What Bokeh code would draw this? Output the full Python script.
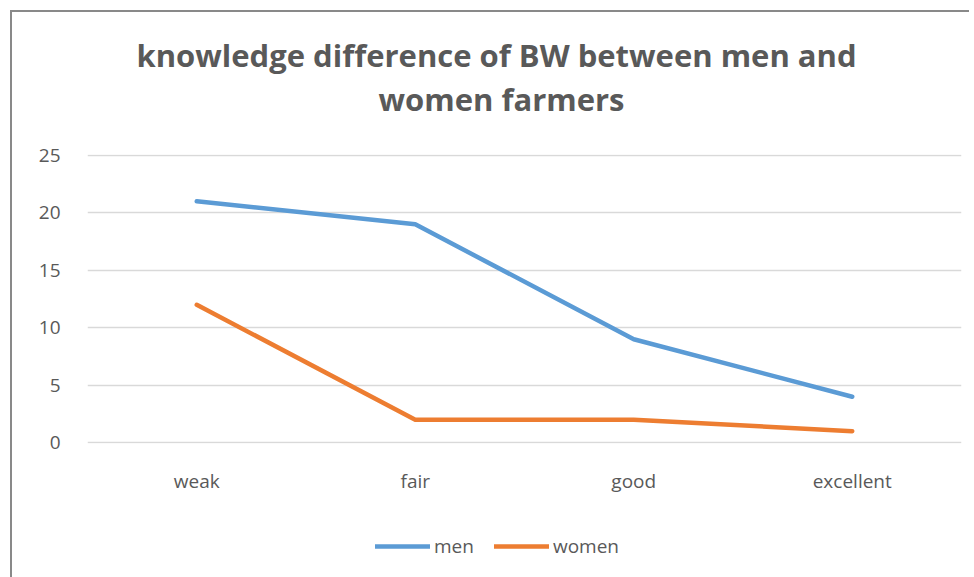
from bokeh.plotting import figure
from bokeh.layouts import column
from bokeh.models import Range1d, Legend, LegendItem, Title
from bokeh.embed import file_html
from bokeh.resources import INLINE

categories = ["weak", "fair", "good", "excellent"]
men = [21, 19, 9, 4]
women = [12, 2, 2, 1]
y_ticks = [0, 5, 10, 15, 20, 25]
title_lines = ["knowledge difference of BW between men and", "women farmers"]
series_names = ["men", "women"]
series_colors = ["#5B9BD5", "#ED7D31"]

FONT = "Open Sans"
TXT = "#595959"

p = figure(x_range=categories, frame_width=872, frame_height=287, output_backend="svg",
           toolbar_location=None, min_border_left=75, min_border_right=10,
           min_border_top=142, min_border_bottom=50)
p.styles = {"border-left": "2px solid #898989", "border-top": "2px solid #898989",
            "margin-left": "10px", "margin-top": "10px"}
p.y_range = Range1d(-0.07, 25.07)
p.yaxis.ticker = y_ticks
p.outline_line_color = None
p.xgrid.grid_line_color = None
p.ygrid.grid_line_color = "#D9D9D9"
p.ygrid.grid_line_width = 1.3

for ax in (p.xaxis[0], p.yaxis[0]):
    ax.axis_line_color = None
    ax.major_tick_line_color = None
    ax.minor_tick_line_color = None
    ax.major_tick_out = 0
    ax.major_label_text_font = FONT
    ax.major_label_text_font_size = "19px"
    ax.major_label_text_color = TXT
p.xaxis.major_label_standoff = 24
p.yaxis.major_label_standoff = 27

for vals, col in zip([men, women], series_colors):
    p.line(categories, vals, line_color=col, line_width=4.5,
           line_cap="round", line_join="round")

# spacer between frame and title (invisible blank text)
p.add_layout(Title(text=" ", text_font_size="1px", standoff=32), "above")
p.add_layout(Title(text=title_lines[1], align="left", offset=291, standoff=0,
                   text_font=FONT, text_font_size="31px", text_color=TXT,
                   text_font_style="bold"), "above")
p.add_layout(Title(text=title_lines[0], align="left", offset=49, standoff=0,
                   text_font=FONT, text_font_size="31px", text_color=TXT,
                   text_font_style="bold"), "above")

# legend strip below the chart (series drawn outside its visible range,
# only their legend glyphs show)
p2 = figure(x_range=categories, width=957, height=84, output_backend="svg",
            toolbar_location=None, x_axis_location=None, y_axis_location=None,
            min_border_left=0, min_border_right=0, min_border_top=0, min_border_bottom=0)
p2.y_range = Range1d(-20, -10)
p2.styles = {"border-left": "2px solid #898989", "margin-left": "10px"}
p2.outline_line_color = None
p2.grid.grid_line_color = None
items = []
for name, vals, col in zip(series_names, [men, women], series_colors):
    r = p2.line(categories, vals, line_color=col, line_width=4.5, line_cap="round")
    items.append(LegendItem(label=name, renderers=[r]))
legend = Legend(items=items, orientation="horizontal", location=(288, 19),
                label_text_font=FONT, label_text_font_size="19px",
                label_text_color=TXT, border_line_color=None,
                background_fill_alpha=0, glyph_width=55, glyph_height=20,
                label_standoff=4, spacing=20, margin=0, padding=0)
p2.add_layout(legend)

open("out.html", "w").write(file_html(column(p, p2, spacing=0), INLINE))
